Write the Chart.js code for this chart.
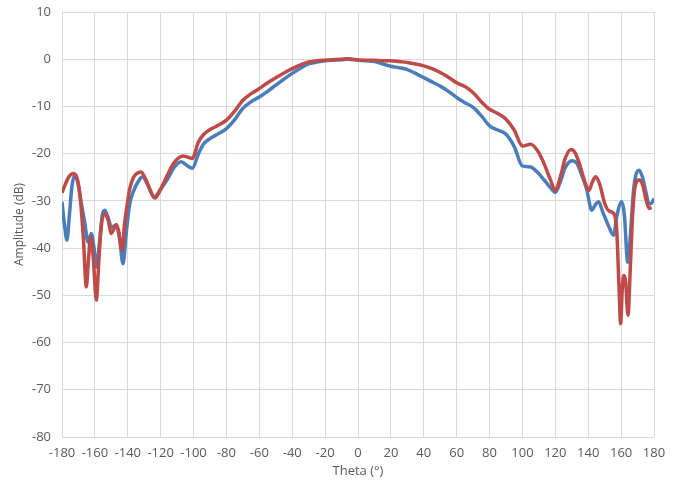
<!DOCTYPE html>
<html>
<head>
<meta charset="utf-8">
<script src="https://cdn.jsdelivr.net/npm/chart.js@4.4.1/dist/chart.umd.min.js"></script>
<style>
  html, body { margin: 0; padding: 0; background: #fff; }
  #wrap { width: 677px; height: 481px; }
</style>
</head>
<body>
<div id="wrap"><canvas id="pattern"></canvas></div>
<script>
// Blue trace (theta in degrees, amplitude in dB)
const blueTheta = [-180, -178.5, -177, -175.5, -174, -172.3, -170.5, -168, -166.2, -164.2, -162.2, -160.5, -159, -157, -155.5, -154,
  -152, -150, -147, -145, -142.9, -141, -139, -136, -133.8, -131, -128, -124, -120, -116, -112, -107.5, -104, -100.8,
  -97, -94, -90, -85, -80, -75, -70, -65, -60, -55, -50, -45, -40, -35, -30, -25, -20, -15, -10, -6,
  0, 5, 10, 15, 20, 25, 30, 35, 40, 45, 50, 55, 60, 65, 70, 75, 80, 85, 90, 95, 100, 105, 109, 113, 117, 120,
  123, 126, 130, 133, 136, 139, 142.2, 144, 146.3, 149, 152, 155.4, 157.5, 160.4, 162, 164, 165.5, 167.5, 169,
  170.9, 173, 175, 177, 178.5, 180];
const blueAmp = [-30.2, -35, -38.3, -33, -27, -24.6, -26, -31, -34.5, -38.7, -36.9, -40, -44, -38, -33, -32,
  -33.5, -35.5, -35.2, -38, -43.3, -37, -31, -27.5, -26, -24.9, -26.5, -29.2, -27.5, -25.5, -23, -21.7, -22.5, -23.1,
  -20, -18, -16.8, -15.8, -14.7, -12.8, -10.4, -9, -8, -6.8, -5.5, -4.2, -3, -1.9, -1, -0.6, -0.3, -0.2, -0.1, 0,
  -0.2, -0.3, -0.5, -1, -1.5, -1.8, -2.2, -3, -3.9, -4.8, -5.7, -6.8, -8.1, -9.2, -10.2, -12, -14.1, -15, -15.9, -18.5, -22.6, -22.8, -23.9, -25.5, -27.2, -28.2,
  -26, -23, -21.5, -22, -24.5, -27.5, -32, -31, -30.2, -32.5, -35, -37.3, -33, -30.2, -33, -43, -38, -28, -24.5,
  -23.5, -25, -28, -30.6, -30.5, -29.5];

// Red trace
const redTheta = [-180, -178, -176, -173.3, -171, -169, -167, -165.2, -164, -162.6, -161, -159.1, -157.5, -156, -154,
  -152, -150, -148.5, -147, -145.5, -143.5, -142, -140, -138.8, -136.5, -134.8, -132, -129, -126, -123.5, -120, -116, -112, -106.5, -103, -100.8,
  -97, -94, -90.5, -85, -80, -75, -70, -65, -60, -55, -50, -45, -40, -35, -30, -25, -20, -15, -10, -6,
  0, 5, 10, 15, 20, 25, 30, 35, 40, 45, 50, 55, 60, 65, 70, 75, 80, 85, 90, 95, 100, 105, 109, 113, 117, 120,
  123, 126, 129.5, 132, 135, 138, 140.4, 142.5, 144.5, 147, 150, 152.5, 155, 157.2, 158.7, 159.7, 160.8, 161.7, 162.7, 164.2,
  165.5, 167, 168.5, 170.9, 173, 175, 177, 178.4];
const redAmp = [-28.3, -26.5, -25, -24.2, -25, -29, -38, -48.2, -43, -37.6, -42, -51, -42, -35, -32.7,
  -34, -36.9, -36, -35, -36.5, -40.5, -35, -30, -27.4, -25, -24.3, -23.9, -25.5, -28, -29.4, -27.5, -24.6, -22, -20.5, -20.8, -21,
  -17.5, -16, -15, -14, -12.9, -11, -8.7, -7.3, -6.2, -5, -3.9, -2.9, -2, -1.2, -0.6, -0.3, -0.2, -0.1, 0, 0.1,
  -0.15, -0.2, -0.2, -0.3, -0.3, -0.5, -0.7, -1, -1.4, -2, -2.8, -3.8, -5, -5.8, -7.1, -9, -10.6, -11.5, -12.7, -15, -18.4, -18, -19.3, -22, -25.5, -27.8,
  -25, -21, -19.1, -19.8, -22.5, -26, -27.8, -26, -24.9, -26.5, -30.5, -32.1, -32.5, -35.5, -48, -56, -48, -45.8, -47, -54.2,
  -45, -33, -27, -25.6, -26.5, -29.5, -31.6, -31.3];

// Axis ranges / ticks
const xMin = -180, xMax = 180, xStep = 20;
const yMin = -80, yMax = 10, yStep = 10;

function toPoints(xs, ys) {
  return xs.map((x, i) => ({ x: x, y: ys[i] }));
}

const tickFont = { family: "'Open Sans', sans-serif", size: 13 };

// red is listed first so it is painted over the blue trace
new Chart(document.getElementById("pattern").getContext("2d"), {
  type: "line",
  data: {
    datasets: [
      {
        label: "Red",
        data: toPoints(redTheta, redAmp),
        borderColor: "#be4b48",
        borderWidth: 3.5,
        pointRadius: 0,
        cubicInterpolationMode: "monotone",
        fill: false
      },
      {
        label: "Blue",
        data: toPoints(blueTheta, blueAmp),
        borderColor: "#4a7ebb",
        borderWidth: 3.5,
        pointRadius: 0,
        cubicInterpolationMode: "monotone",
        fill: false
      }
    ]
  },
  options: {
    animation: false,
    responsive: true,
    maintainAspectRatio: false,
    layout: { padding: { top: 12, right: 23, left: 0, bottom: 0 } },
    plugins: {
      legend: { display: false },
      tooltip: { enabled: false }
    },
    scales: {
      x: {
        type: "linear",
        min: xMin,
        max: xMax,
        ticks: { stepSize: xStep, color: "#595959", font: tickFont, padding: 8, maxRotation: 0 },
        grid: { color: "#d9d9d9", drawTicks: false },
        border: { display: false },
        title: { display: true, text: "Theta (°)", color: "#595959", font: tickFont, padding: { top: 0, bottom: 2 } },
        afterFit: (scale) => { scale.height = 44; }
      },
      y: {
        min: yMin,
        max: yMax,
        ticks: { stepSize: yStep, color: "#595959", font: tickFont, padding: 11 },
        grid: { color: "#d9d9d9", drawTicks: false },
        border: { display: false },
        title: { display: true, text: "Amplitude (dB)", color: "#595959", font: { family: "'Open Sans', sans-serif", size: 12 }, padding: { top: 12, bottom: 0 } },
        afterFit: (scale) => {
          scale.width = 62;
          // don't let the "10" label push the plot area down
          scale.paddingTop = 0;
          scale.paddingBottom = 0;
        }
      }
    }
  }
});
</script>
</body>
</html>
